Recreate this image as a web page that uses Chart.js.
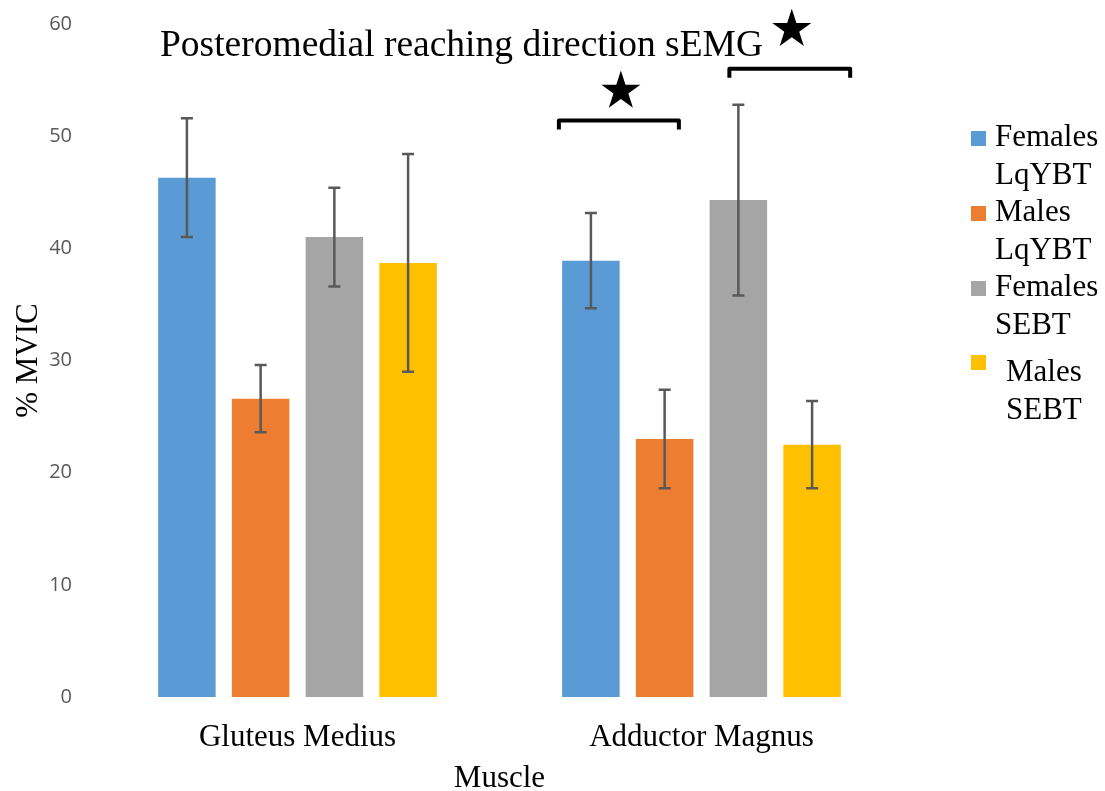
<!DOCTYPE html>
<html>
<head>
<meta charset="utf-8">
<script src="https://cdn.jsdelivr.net/npm/chart.js@4.4.1/dist/chart.umd.min.js"></script>
<style>
  html, body { margin: 0; padding: 0; background: #fff; }
  #wrap { width: 1105px; height: 791px; }
</style>
</head>
<body>
<div id="wrap"><canvas id="emgChart"></canvas></div>
<script>
// данные
const muscles = ['Gluteus Medius', 'Adductor Magnus'];
const seriesNames = ['Females LqYBT', 'Males LqYBT', 'Females SEBT', 'Males SEBT'];
const seriesColors = ['#5B9BD5', '#ED7D31', '#A5A5A5', '#FFC000'];
const femalesLqYBT = [46.3, 38.9];
const malesLqYBT = [26.6, 23.0];
const femalesSEBT = [41.0, 44.3];
const malesSEBT = [38.7, 22.5];
const errFemalesLqYBT = [5.3, 4.25];
const errMalesLqYBT = [3.0, 4.4];
const errFemalesSEBT = [4.4, 8.5];
const errMalesSEBT = [9.7, 3.9];
const yTicks = [0, 10, 20, 30, 40, 50, 60];

// significance brackets (category units / %MVIC)
const bracketFrom = [0.647, 1.069];
const bracketTo = [0.944, 1.368];
const bracketLevel = [51.4, 56.0];
const starLevel = [54.2, 59.7];

const SERIF = "'Liberation Serif', 'Times New Roman', serif";

const values = [femalesLqYBT, malesLqYBT, femalesSEBT, malesSEBT];
const errors = [errFemalesLqYBT, errMalesLqYBT, errFemalesSEBT, errMalesSEBT];

const datasets = values.map((v, i) => ({
  label: seriesNames[i],
  data: v,
  errors: errors[i],
  backgroundColor: seriesColors[i],
  borderWidth: 0,
  categoryPercentage: 0.73,
  barPercentage: 0.78
}));

function drawStar(ctx, cx, cy, R) {
  const r = R * 0.382;
  ctx.beginPath();
  for (let k = 0; k < 10; k++) {
    const rad = k % 2 === 0 ? R : r;
    const a = -Math.PI / 2 + k * Math.PI / 5;
    const px = cx + rad * Math.cos(a);
    const py = cy + rad * Math.sin(a);
    if (k === 0) ctx.moveTo(px, py); else ctx.lineTo(px, py);
  }
  ctx.closePath();
  ctx.fill();
}

// усы погрешностей
const errorBars = {
  id: 'errorBars',
  afterDatasetsDraw(chart) {
    const ctx = chart.ctx;
    const y = chart.scales.y;
    ctx.save();
    ctx.strokeStyle = '#595959';
    ctx.lineWidth = 2.5;
    chart.data.datasets.forEach((ds, i) => {
      chart.getDatasetMeta(i).data.forEach((bar, j) => {
        const top = y.getPixelForValue(ds.data[j] + ds.errors[j]);
        const bot = y.getPixelForValue(ds.data[j] - ds.errors[j]);
        ctx.beginPath();
        ctx.moveTo(bar.x, top); ctx.lineTo(bar.x, bot);
        ctx.moveTo(bar.x - 6, top); ctx.lineTo(bar.x + 6, top);
        ctx.moveTo(bar.x - 6, bot); ctx.lineTo(bar.x + 6, bot);
        ctx.stroke();
      });
    });
    ctx.restore();
  }
};

// заголовок, скобки, звёзды, легенда
const extras = {
  id: 'extras',
  afterDraw(chart) {
    const ctx = chart.ctx;
    const x = chart.scales.x;
    const y = chart.scales.y;
    ctx.save();
    ctx.fillStyle = '#000';
    ctx.font = '37.5px ' + SERIF;
    ctx.textBaseline = 'alphabetic';
    ctx.textAlign = 'left';
    ctx.fillText('Posteromedial reaching direction sEMG', 160, 56);

    ctx.strokeStyle = '#000';
    ctx.lineWidth = 4;
    ctx.lineJoin = 'round';
    for (let b = 0; b < bracketFrom.length; b++) {
      const x1 = x.getPixelForValue(bracketFrom[b]);
      const x2 = x.getPixelForValue(bracketTo[b]);
      const yl = y.getPixelForValue(bracketLevel[b]);
      ctx.beginPath();
      ctx.moveTo(x1, yl + 9);
      ctx.lineTo(x1, yl);
      ctx.lineTo(x2, yl);
      ctx.lineTo(x2, yl + 9);
      ctx.stroke();
      const sx = x.getPixelForValue((bracketFrom[b] + bracketTo[b]) / 2) + 2;
      drawStar(ctx, sx, y.getPixelForValue(starLevel[b]) + 2, 20.5);
    }

    // legend
    ctx.font = '31px ' + SERIF;
    chart.data.datasets.forEach((ds, i) => {
      const top = 131 + i * 75;
      const shift = i === 3 ? 1 : 0;
      ctx.fillStyle = ds.backgroundColor;
      ctx.fillRect(971, top - shift * 1, 15, 15);
      ctx.fillStyle = '#000';
      const parts = ds.label.split(' ');
      const tx = 995 + shift * 11;
      const ty = top + 15 + shift * 10;
      ctx.fillText(parts[0], tx, ty);
      ctx.fillText(parts[1], tx, ty + 38);
    });
    ctx.restore();
  }
};

const ctx = document.getElementById('emgChart').getContext('2d');
new Chart(ctx, {
  type: 'bar',
  data: { labels: muscles, datasets: datasets },
  options: {
    responsive: true,
    maintainAspectRatio: false,
    animation: false,
    layout: { padding: { left: 0, right: 201.5, top: 24, bottom: 0 } },
    plugins: {
      legend: { display: false },
      tooltip: { enabled: false }
    },
    scales: {
      x: {
        grid: { display: false, drawTicks: false },
        border: { display: false },
        ticks: { color: '#000', font: { family: SERIF, size: 31 }, padding: 22 },
        title: { display: true, text: 'Muscle', color: '#000', font: { family: SERIF, size: 31, lineHeight: 1 }, padding: { top: 0, bottom: -3 } },
        afterFit(scale) { scale.height = 94; scale.paddingLeft = 0; scale.paddingRight = 0; }
      },
      y: {
        min: 0,
        max: 60,
        grid: { display: false, drawTicks: false },
        border: { display: false },
        afterBuildTicks(scale) { scale.ticks = yTicks.map(v => ({ value: v })); },
        ticks: { color: '#595959', font: { family: "'Open Sans', sans-serif", size: 20 }, padding: 23.5 },
        title: { display: true, text: '% MVIC', color: '#000', font: { family: SERIF, size: 31, lineHeight: 1 }, padding: { top: 13, bottom: 0 } },
        afterFit(scale) { scale.width = 95.5; scale.paddingTop = 0; scale.paddingBottom = 0; }
      }
    }
  },
  plugins: [errorBars, extras]
});
</script>
</body>
</html>
